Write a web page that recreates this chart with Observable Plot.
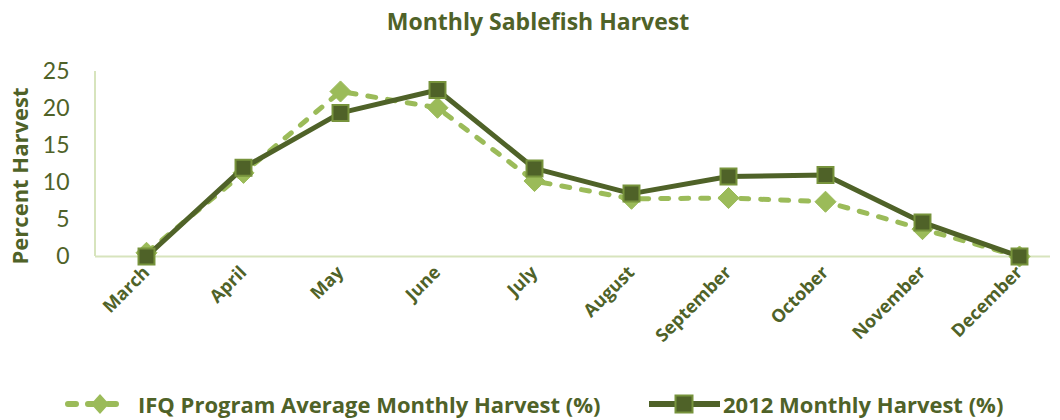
<!DOCTYPE html>
<html>
<head>
<meta charset="utf-8">
<script src="https://cdn.jsdelivr.net/npm/d3@7"></script>
<script src="https://cdn.jsdelivr.net/npm/@observablehq/plot@0.6"></script>
<style>
  body { margin: 0; background: #fff; font-family: "Open Sans", sans-serif; }
  #wrap { width: 1060px; position: relative; }
  #title { height: 45px; line-height: 43px; text-align: center; font-weight: 700; font-size: 23px; color: #4f6228; padding-left: 16px; }
  #legend { position: relative; height: 45px; }
  .lg { position: absolute; top: 16px; height: 26px; line-height: 22px; display: flex; align-items: center; font-weight: 700; font-size: 22px; color: #4f6228; white-space: nowrap; }
  .lg svg { display: block; }
</style>
</head>
<body>
<div id="wrap">
  <div id="title">Monthly Sablefish Harvest</div>
  <div id="chart"></div>
  <div id="legend"></div>
</div>
<script>
const months = ["March","April","May","June","July","August","September","October","November","December"];
const ifqAvg = [0.5, 11.3, 22.3, 20.1, 10.2, 7.8, 7.9, 7.4, 3.7, 0];
const harvest2012 = [0, 12.0, 19.4, 22.5, 11.9, 8.5, 10.8, 11.0, 4.6, 0];
const yTicks = [0, 5, 10, 15, 20, 25];
const seriesNames = ["IFQ Program Average Monthly Harvest (%)", "2012 Monthly Harvest (%)"];

const dark = "#4f6228", light = "#9bbb59", border = "#77933c", axisCol = "#d7e4bd";

const ifqData = months.map((m, i) => ({month: m, value: ifqAvg[i]}));
const d2012 = months.map((m, i) => ({month: m, value: harvest2012[i]}));

const leftLine = (index, scales, values, dims) => {
  const l = d3.create("svg:line")
    .attr("x1", dims.marginLeft).attr("x2", dims.marginLeft)
    .attr("y1", dims.marginTop).attr("y2", dims.height - dims.marginBottom)
    .attr("stroke", axisCol).attr("stroke-width", 2);
  return l.node();
};

const chart = Plot.plot({
  width: 1060,
  height: 330,
  marginTop: 26,
  marginBottom: 119,
  marginLeft: 95,
  marginRight: 10,
  style: {background: "transparent", color: dark, overflow: "visible"},
  x: {type: "point", domain: months, range: [145, 1020], padding: 0, label: null},
  y: {domain: [0, 25], label: null},
  marks: [
    leftLine,
    Plot.ruleY([0], {stroke: axisCol, strokeWidth: 2}),
    Plot.axisY({ticks: yTicks, tickSize: 0, tickPadding: 26, fontSize: 23, fontFamily: "Lato", fill: dark, label: null}),
    Plot.axisX({tickSize: 0, tickPadding: 13, tickRotate: -45, fontSize: 18, fontWeight: 700, fontFamily: "Open Sans", fill: dark, label: null}),
    Plot.text(["Percent Harvest"], {frameAnchor: "left", textAnchor: "middle", dx: -75, dy: 12, rotate: -90, fontSize: 22, fontWeight: 700, fontFamily: "Open Sans", fill: dark}),
    Plot.line(ifqData, {x: "month", y: "value", stroke: light, strokeWidth: 5, strokeDasharray: "8,12", strokeLinecap: "round"}),
    Plot.dot(ifqData, {x: "month", y: "value", symbol: "diamond2", r: 9.5, fill: light, stroke: light, strokeWidth: 1}),
    Plot.line(d2012, {x: "month", y: "value", stroke: dark, strokeWidth: 5}),
    Plot.dot(d2012, {x: "month", y: "value", symbol: "square", r: 9, fill: dark, stroke: border, strokeWidth: 2})
  ]
});
document.getElementById("chart").appendChild(chart);

const legend = document.getElementById("legend");
const items = [
  {left: 64, name: seriesNames[0], sym: `<svg width="74" height="26"><line x1="4" y1="13" x2="60" y2="13" stroke="${light}" stroke-width="6" stroke-dasharray="8,12" stroke-linecap="round"/><path d="M36,3 L45,13 L36,23 L27,13 Z" fill="${light}"/></svg>`},
  {left: 648, name: seriesNames[1], sym: `<svg width="75" height="26"><line x1="1" y1="13" x2="72" y2="13" stroke="${dark}" stroke-width="6"/><rect x="27.5" y="4.5" width="17" height="17" fill="${dark}" stroke="${border}" stroke-width="2"/></svg>`}
];
items.forEach(it => {
  const d = document.createElement("div");
  d.className = "lg";
  d.style.left = it.left + "px";
  d.innerHTML = it.sym + `<span>${it.name}</span>`;
  legend.appendChild(d);
});
</script>
</body>
</html>
